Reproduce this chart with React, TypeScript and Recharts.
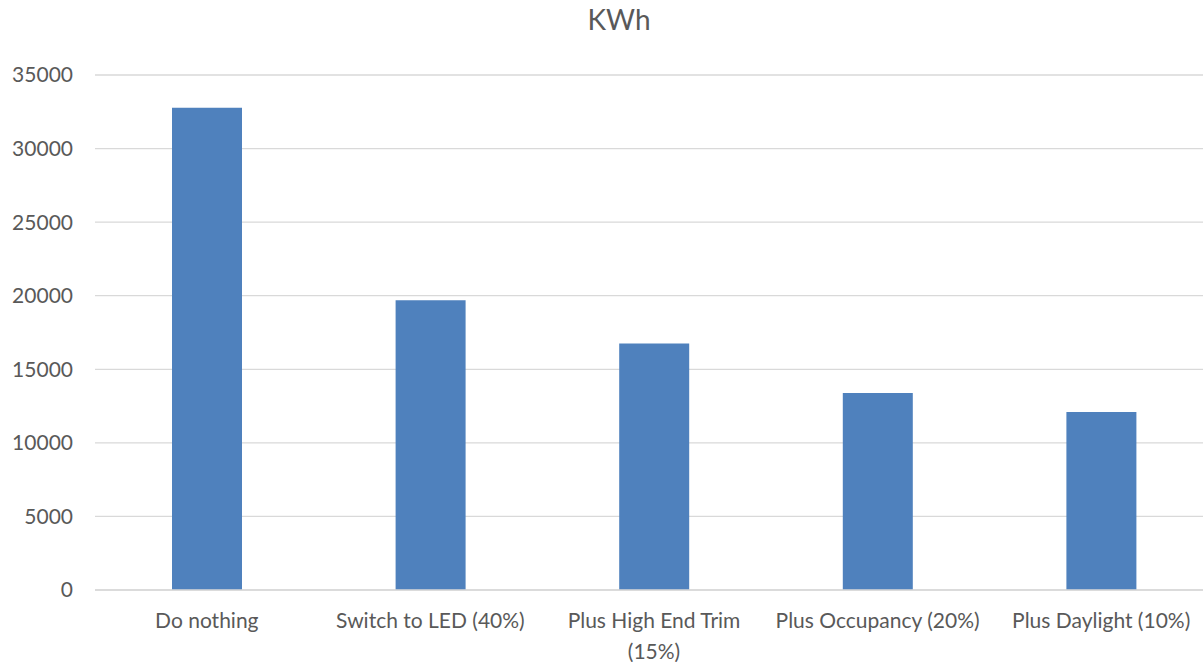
import React from 'react';
import { BarChart, Bar, XAxis, YAxis, CartesianGrid } from 'recharts';

const categories = [
  'Do nothing',
  'Switch to LED (40%)',
  'Plus High End Trim (15%)',
  'Plus Occupancy (20%)',
  'Plus Daylight (10%)',
];
const kwh = [32780, 19690, 16750, 13390, 12100];
const yTicks = [0, 5000, 10000, 15000, 20000, 25000, 30000, 35000];

const data = categories.map((name, i) => ({ name, kwh: kwh[i] }));

const FONT = 'Lato, "Open Sans", sans-serif';
const TEXT_COLOR = '#595959';

// greedy wrap by character count, like Excel does for the long label
const wrapLabel = (label: string, maxChars = 20) => {
  const lines: string[] = [];
  let cur = '';
  label.split(' ').forEach((w) => {
    const next = cur ? cur + ' ' + w : w;
    if (next.length > maxChars && cur) {
      lines.push(cur);
      cur = w;
    } else {
      cur = next;
    }
  });
  if (cur) lines.push(cur);
  return lines;
};

const CategoryTick = (props: any) => {
  const { x, y, payload } = props;
  const lines = wrapLabel(String(payload.value));
  return (
    <text
      x={x}
      y={y}
      textAnchor="middle"
      fill={TEXT_COLOR}
      fontSize={21}
      fontFamily={FONT}
    >
      {lines.map((l, i) => (
        <tspan key={i} x={x} dy={i === 0 ? 22 : 31}>
          {l}
        </tspan>
      ))}
    </text>
  );
};

export default function App() {
  return (
    <div
      style={{
        position: 'fixed',
        left: 0,
        top: 0,
        width: 1203,
        height: 662,
        overflow: 'hidden',
        background: '#fff',
      }}
    >
      <div
        style={{
          position: 'absolute',
          left: 0,
          top: 2,
          width: 1238,
          textAlign: 'center',
          fontFamily: FONT,
          fontSize: 28,
          color: TEXT_COLOR,
        }}
      >
        KWh
      </div>
      <div style={{ position: 'absolute', left: 0, top: 0 }}>
        <BarChart
          width={1213}
          height={662}
          data={data}
          margin={{ top: 75, right: 0, bottom: 0, left: 0 }}
        >
          <CartesianGrid vertical={false} stroke="#d9d9d9" strokeWidth={1.3} />
          <XAxis
            dataKey="name"
            height={72}
            axisLine={{ stroke: '#d9d9d9', strokeWidth: 1.3 }}
            tickLine={false}
            tickMargin={10}
            interval={0}
            tick={<CategoryTick />}
          />
          <YAxis
            width={95}
            domain={[0, 35000]}
            ticks={yTicks}
            axisLine={false}
            tickLine={false}
            tickMargin={16}
            tick={{ fill: TEXT_COLOR, fontSize: 21, fontFamily: FONT }}
          />
          <Bar dataKey="kwh" fill="#4f81bd" barSize={70} isAnimationActive={false} />
        </BarChart>
      </div>
    </div>
  );
}
